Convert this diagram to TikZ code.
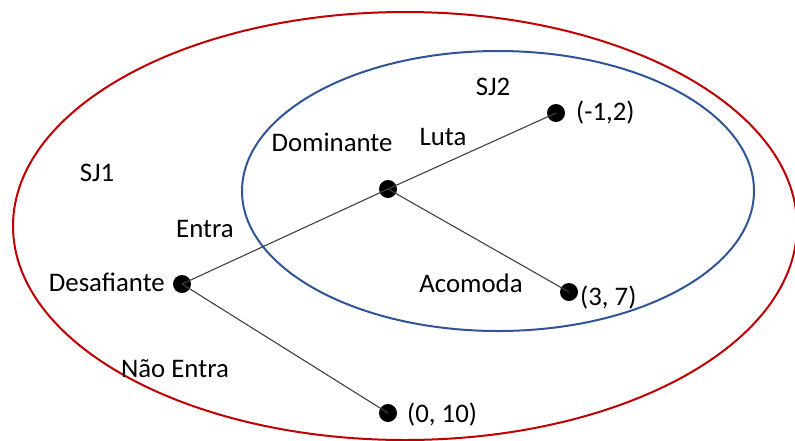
\documentclass[tikz,border=0pt]{standalone}
\usepackage{fontspec}
\setmainfont{Carlito}
\definecolor{sjred}{HTML}{C00000}
\definecolor{sjblue}{HTML}{2F5597}
\definecolor{edgegray}{HTML}{404040}
\begin{document}
\begin{tikzpicture}[x=1pt,y=-1pt,
  lbl/.style={inner sep=0pt,font=\fontsize{26.8}{32}\selectfont},
  dot/.style={circle,fill=black,minimum size=18pt,inner sep=0pt},
  edge/.style={draw=edgegray,line width=1.1pt}]
\useasboundingbox (0,0) rectangle (795,440);
\begin{scope}
\clip (0,0) rectangle (795,440);
\draw[sjred,line width=2pt] (405,226) ellipse[x radius=392,y radius=214];
\end{scope}
\draw[sjblue,line width=2pt] (498,191) ellipse[x radius=256,y radius=140];
\node[dot] (des) at (182,284) {};
\node[dot] (dom) at (388,189) {};
\node[dot] (luta) at (556,113) {};
\node[dot] (aco) at (569,292) {};
\node[dot] (nao) at (388,413) {};
\draw[edge] (des.center) -- (dom.center);
\draw[edge] (des.center) -- (nao.center);
\draw[edge] (dom.center) -- (luta.center);
\draw[edge] (dom.center) -- (aco.center);
\node[lbl] (sj1) at (97,173) {SJ1};
\node[lbl] (sj2) at (493,87) {SJ2};
\node[lbl] (ldom) at (332,142) {Dominante};
\node[lbl] (lentra) at (205,229) {Entra};
\node[lbl,anchor=east] (ldes) at (165,282) {Desafiante};
\node[lbl] (lnao) at (175,369) {Não Entra};
\node[lbl] (lluta) at (443,137) {Luta};
\node[lbl] (laco) at (471,283) {Acomoda};
\node[lbl,anchor=west] (p1) at (576,113) {(-1,2)};
\node[lbl,anchor=west] (p2) at (580,298) {(3, 7)};
\node[lbl,anchor=west] (p3) at (407,415) {(0, 10)};
\end{tikzpicture}
\end{document}
